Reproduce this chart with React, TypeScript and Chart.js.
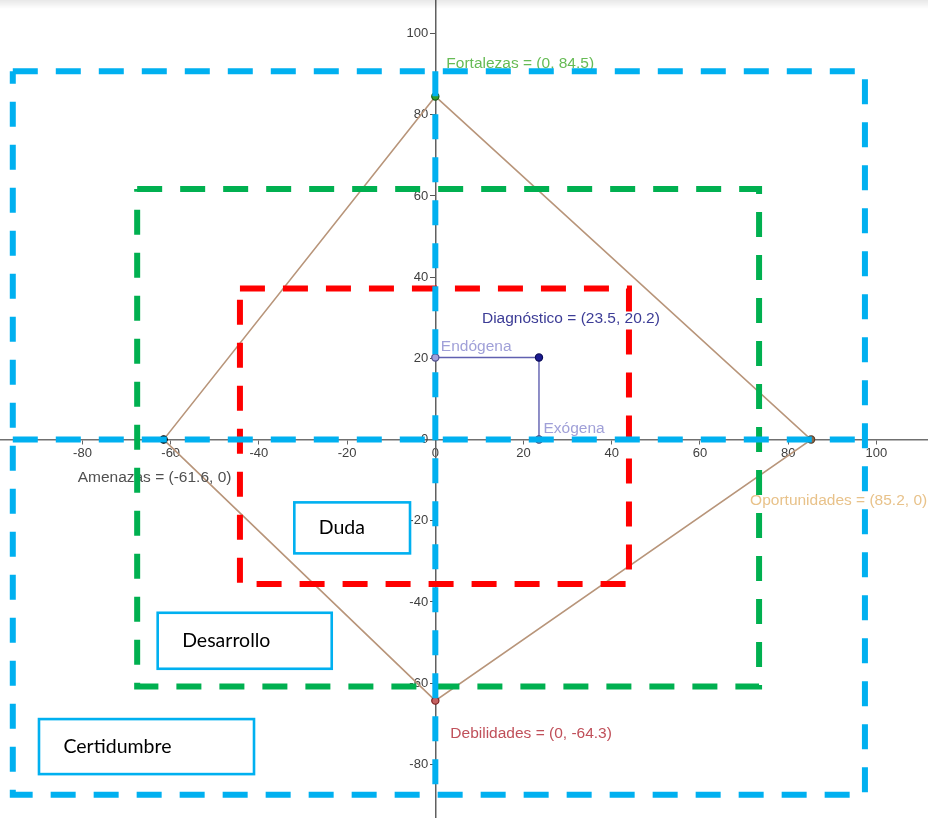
import React, { useEffect, useRef } from 'react';
import { Chart, registerables } from 'chart.js';

Chart.register(...registerables);

// ---- data ----
const xTickValues = [-80, -60, -40, -20, 0, 20, 40, 60, 80, 100];
const yTickValues = [-80, -60, -40, -20, 0, 20, 40, 60, 80, 100];
const xRange = [-98.7, 111.7];
const yRange = [-93.2, 108.25];

const pointNames = ['Fortalezas', 'Oportunidades', 'Debilidades', 'Amenazas'];
const pointX = [0, 85.2, 0, -61.6];
const pointY = [84.5, 0, -64.3, 0];

const diagnosticoName = 'Diagnóstico';
const diagnosticoX = 23.5;
const diagnosticoY = 20.2;
const endogenaName = 'Endógena';
const exogenaName = 'Exógena';

// zones (outer -> inner)
const zoneNames = ['Certidumbre', 'Desarrollo', 'Duda'];
const zoneXMin = [-95.8, -67.6, -44.3];
const zoneXMax = [97.4, 73.4, 43.9];
const zoneYMin = [-87.5, -60.8, -35.6];
const zoneYMax = [90.7, 61.7, 37.2];

// ---- styling / layout ----
const zoneColors = ['#00b0f0', '#00b050', '#ff0000'];
const pointFill = ['#2f9e2f', '#8a6a4c', '#c46060', '#2a2a2a'];
const pointStroke = ['#145a14', '#5a3e28', '#7a1e1e', '#000000'];
const labelColors = ['#66bb55', '#e8c28a', '#c0505a', '#505050'];
const labelOffsets = [
  [11, -28],
  [-61, 65],
  [15, 37],
  [-86, 42],
];
// text boxes in data coordinates [x1, x2, yTop, yBottom], matched to zoneNames
const boxRects = [
  [-89.86, -41.11, -68.84, -82.39],
  [-62.95, -23.49, -42.66, -56.45],
  [-31.97, -5.74, -15.47, -28.03],
];

const fmt = (v: number) => String(v);

function rectPath(i: number) {
  return [
    { x: zoneXMin[i], y: zoneYMax[i] },
    { x: zoneXMax[i], y: zoneYMax[i] },
    { x: zoneXMax[i], y: zoneYMin[i] },
    { x: zoneXMin[i], y: zoneYMin[i] },
    { x: zoneXMin[i], y: zoneYMax[i] },
  ];
}

const zoneStyle = (color: string) => ({
  showLine: true,
  borderColor: color,
  backgroundColor: color,
  borderWidth: 6,
  borderDash: [25, 18],
  borderCapStyle: 'butt' as const,
  borderJoinStyle: 'miter' as const,
  pointRadius: 0,
  fill: false,
  tension: 0,
  order: 1,
});

const POINTS_INDEX = 7;

const noPadding = (scale: any) => {
  scale.paddingTop = 0;
  scale.paddingBottom = 0;
  scale.paddingLeft = 0;
  scale.paddingRight = 0;
};

export default function App() {
  const ref = useRef<HTMLCanvasElement | null>(null);

  useEffect(() => {
    document.body.style.margin = '0';
    const canvas = ref.current;
    if (!canvas) return;

    const datasets: any[] = [
      // 0: blue rectangle
      { data: rectPath(0), ...zoneStyle(zoneColors[0]) },
      // 1: blue horizontal cross line
      {
        data: [
          { x: zoneXMin[0], y: 0 },
          { x: zoneXMax[0], y: 0 },
        ],
        ...zoneStyle(zoneColors[0]),
      },
      // 2: blue vertical cross line
      {
        data: [
          { x: 0, y: zoneYMax[0] },
          { x: 0, y: zoneYMin[0] },
        ],
        ...zoneStyle(zoneColors[0]),
      },
      // 3: green rectangle
      { data: rectPath(1), ...zoneStyle(zoneColors[1]) },
      // 4: red rectangle
      { data: rectPath(2), ...zoneStyle(zoneColors[2]) },
      // 5: quadrilateral
      {
        data: [0, 1, 2, 3, 0].map((i) => ({ x: pointX[i], y: pointY[i] })),
        showLine: true,
        borderColor: '#b8957a',
        borderWidth: 1.6,
        pointRadius: 0,
        fill: false,
        tension: 0,
        order: 5,
      },
      // 6: diagnostico lines
      {
        data: [
          { x: 0, y: diagnosticoY },
          { x: diagnosticoX, y: diagnosticoY },
          { x: diagnosticoX, y: 0 },
        ],
        showLine: true,
        borderColor: '#6060b0',
        borderWidth: 1.4,
        pointRadius: 0,
        fill: false,
        tension: 0,
        order: 4,
      },
      // 7: points
      {
        data: [
          ...pointX.map((x, i) => ({ x, y: pointY[i] })),
          { x: diagnosticoX, y: diagnosticoY },
          { x: 0, y: diagnosticoY },
          { x: diagnosticoX, y: 0 },
        ],
        showLine: false,
        pointRadius: 3.6,
        pointBorderWidth: 1.2,
        pointBackgroundColor: [...pointFill, '#1a1a90', '#a0a0dc', '#a8a8d8'],
        pointBorderColor: [...pointStroke, '#0c0c5a', '#50508c', '#40406e'],
        order: 3,
      },
    ];

    const annotate = {
      id: 'annotate',
      afterDatasetDraw(chart: any, args: any) {
        if (args.index !== POINTS_INDEX) return;
        const ctx = chart.ctx as CanvasRenderingContext2D;
        const xs = chart.scales.x;
        const ys = chart.scales.y;
        ctx.save();
        ctx.font = '15.5px "Liberation Sans", Arial, sans-serif';
        ctx.textAlign = 'left';
        ctx.textBaseline = 'alphabetic';
        pointNames.forEach((name, i) => {
          const px = xs.getPixelForValue(pointX[i]);
          const py = ys.getPixelForValue(pointY[i]);
          ctx.fillStyle = labelColors[i];
          ctx.fillText(
            `${name} = (${fmt(pointX[i])}, ${fmt(pointY[i])})`,
            px + labelOffsets[i][0],
            py + labelOffsets[i][1]
          );
        });
        const dx = xs.getPixelForValue(diagnosticoX);
        const dy = ys.getPixelForValue(diagnosticoY);
        const ox = xs.getPixelForValue(0);
        const oy = ys.getPixelForValue(0);
        ctx.fillStyle = '#3c3c96';
        ctx.fillText(
          `${diagnosticoName} = (${fmt(diagnosticoX)}, ${fmt(diagnosticoY)})`,
          dx - 57,
          dy - 34.5
        );
        ctx.fillStyle = '#a0a0d8';
        ctx.fillText(endogenaName, ox + 5.5, dy - 6.5);
        ctx.fillText(exogenaName, dx + 4.5, oy - 7);
        ctx.restore();
      },
      afterDraw(chart: any) {
        const ctx = chart.ctx as CanvasRenderingContext2D;
        const xs = chart.scales.x;
        const ys = chart.scales.y;
        ctx.save();
        zoneNames.forEach((name, i) => {
          const [bx1, bx2, byt, byb] = boxRects[i];
          const x1 = xs.getPixelForValue(bx1);
          const x2 = xs.getPixelForValue(bx2);
          const y1 = ys.getPixelForValue(byt);
          const y2 = ys.getPixelForValue(byb);
          ctx.fillStyle = '#ffffff';
          ctx.fillRect(x1, y1, x2 - x1, y2 - y1);
          ctx.strokeStyle = '#00b0f0';
          ctx.lineWidth = 2.6;
          ctx.strokeRect(x1, y1, x2 - x1, y2 - y1);
          ctx.fillStyle = '#000000';
          ctx.font = '19.5px Lato, "Open Sans", sans-serif';
          ctx.textAlign = 'left';
          ctx.textBaseline = 'alphabetic';
          ctx.fillText(name, x1 + 24.5, (y1 + y2) / 2 + 6);
        });
        ctx.restore();
      },
    };

    const tickFont = { family: '"Liberation Sans", Arial, sans-serif', size: 13 };

    const chart = new Chart(canvas, {
      type: 'scatter',
      data: { datasets },
      options: {
        animation: false,
        responsive: false,
        devicePixelRatio: 1,
        events: [],
        layout: { padding: 0, autoPadding: false } as any,
        plugins: {
          legend: { display: false },
          tooltip: { enabled: false },
          title: { display: false },
        },
        scales: {
          x: {
            type: 'linear',
            min: xRange[0],
            max: xRange[1],
            position: { y: 0 } as any,
            afterBuildTicks: (axis: any) => {
              axis.ticks = xTickValues.map((v) => ({ value: v }));
            },
            afterFit: noPadding,
            grid: {
              drawOnChartArea: false,
              drawTicks: true,
              tickLength: 4,
              color: '#666666',
              lineWidth: 1,
            },
            border: { display: true, color: '#707070', width: 1.5 },
            ticks: {
              font: tickFont,
              color: '#404040',
              padding: 2,
              maxRotation: 0,
              autoSkip: false,
              callback: (v: any) => fmt(Number(v)),
            },
          },
          y: {
            type: 'linear',
            min: yRange[0],
            max: yRange[1],
            position: { x: 0 } as any,
            afterBuildTicks: (axis: any) => {
              axis.ticks = yTickValues.map((v) => ({ value: v }));
            },
            afterFit: noPadding,
            grid: {
              drawOnChartArea: false,
              drawTicks: true,
              tickLength: 5,
              color: '#555555',
              lineWidth: 1,
            },
            border: { display: true, color: '#606060', width: 1.5 },
            ticks: {
              font: tickFont,
              color: '#404040',
              padding: 2,
              autoSkip: false,
              // trailing spaces keep the right-aligned label clear of the tick mark
              callback: (v: any) => fmt(Number(v)) + '\u00a0\u00a0',
            },
          },
        },
      },
      plugins: [annotate],
    });

    return () => chart.destroy();
  }, []);

  return (
    <div style={{ position: 'relative', width: 928, height: 818, background: '#ffffff' }}>
      <canvas ref={ref} width={928} height={818} style={{ display: 'block' }} />
      <div
        style={{
          position: 'absolute',
          left: 0,
          top: 0,
          width: 928,
          height: 9,
          background: 'linear-gradient(rgba(0,0,0,0.09), rgba(0,0,0,0))',
          pointerEvents: 'none',
        }}
      />
    </div>
  );
}
